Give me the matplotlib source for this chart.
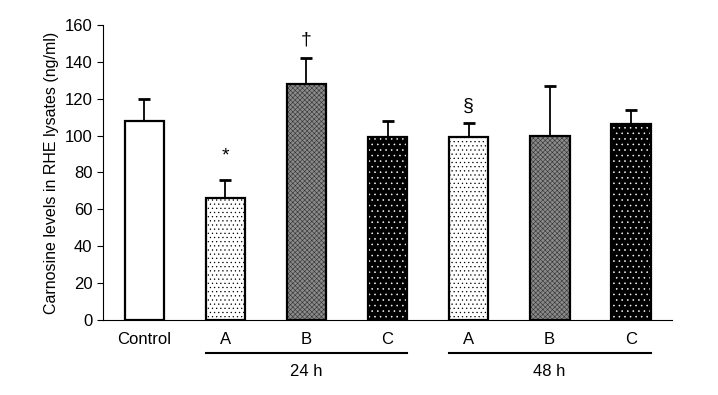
import matplotlib
matplotlib.use("Agg")
import matplotlib.pyplot as plt
import numpy as np

plt.rcParams['font.family'] = ['Liberation Sans', 'DejaVu Sans']
plt.rcParams['hatch.linewidth'] = 0.4

labels = ["Control", "A", "B", "C", "A", "B", "C"]
means = [108, 66, 128, 99, 99, 100, 106]
upper = [120, 76, 142, 108, 107, 127, 114]
marks = ["", "*", "†", "", "§", "", ""]
mark_y = [None, 89, 152, None, 116, None, None]
groups = [("24 h", 1, 3), ("48 h", 4, 6)]

face = ["white", "white", "#8a8a8a", "black", "white", "#8a8a8a", "black"]
hatch = [None, "....", "xxxxxxx", "...", "....", "xxxxxxx", "..."]
hcol = [None, "black", "#333333", "white", "black", "#333333", "white"]

fig = plt.figure(figsize=(7.18, 3.95), dpi=100)
ax = fig.add_axes([0.1435, 0.19, 0.7925, 0.747])
x = np.arange(len(labels))
w = 0.49
ax.bar(x, means, w, color=face, edgecolor="none", linewidth=0, zorder=2)
for i in range(len(x)):
    if hatch[i]:
        ax.bar(x[i], means[i], w, color="none", edgecolor=hcol[i], hatch=hatch[i], linewidth=0, zorder=3)
ax.bar(x, means, w, color="none", edgecolor="black", linewidth=1.6, zorder=4)
err = np.array(upper) - np.array(means)
ax.errorbar(x, means, yerr=[np.zeros_like(err), err], fmt="none", ecolor="black",
            elinewidth=1.3, capsize=4, capthick=2, zorder=1)
for i, m in enumerate(marks):
    if m:
        ax.text(x[i], mark_y[i], m, ha="center", va="center", fontsize=14)

ax.set_xlim(-0.51, 6.51)
ax.set_ylim(0, 160)
ax.set_yticks(range(0, 161, 20))
ax.set_xticks([])
ax.spines['top'].set_visible(False)
ax.spines['right'].set_visible(False)
ax.tick_params(axis='y', labelsize=12, length=4, direction='out')
ax.set_ylabel("Carnosine levels in RHE lysates (ng/ml)", fontsize=11.5, labelpad=4)

for i, lab in enumerate(labels):
    ax.annotate(lab, xy=(x[i], 0), xycoords=("data", "axes fraction"), xytext=(0, -14),
                textcoords="offset points", ha="center", va="center", fontsize=12)
for name, a, b in groups:
    ax.plot([a - w / 2, b + w / 2], [-0.112, -0.112], transform=ax.get_xaxis_transform(),
            color="black", lw=1.5, clip_on=False)
    ax.annotate(name, xy=((a + b) / 2, 0), xycoords=("data", "axes fraction"), xytext=(0, -37),
                textcoords="offset points", ha="center", va="center", fontsize=12)

fig.savefig("out.png", dpi=100)
